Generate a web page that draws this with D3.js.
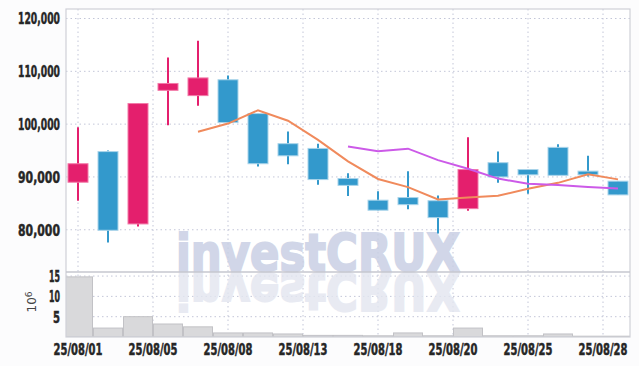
<!DOCTYPE html>
<html>
<head>
<meta charset="utf-8">
<script src="https://cdn.jsdelivr.net/npm/d3@7"></script>
<style>
  body { margin: 0; background: #fcfcfd; }
  svg { display: block; }
</style>
</head>
<body>
<svg id="chart"></svg>
<script>
const dates = ["25/08/01","25/08/04","25/08/05","25/08/06","25/08/07","25/08/08","25/08/11","25/08/12","25/08/13","25/08/14",
               "25/08/18","25/08/19","25/08/20","25/08/21","25/08/22","25/08/25","25/08/26","25/08/27","25/08/28"];
const open  = [89000, 94800, 81100, 106400, 105400, 108400, 102000, 96300, 95400, 89700,
               85600, 86100, 85500, 84000, 92700, 91400, 95600, 91100, 89200];
const high  = [99400, 95000, 104000, 112600, 115800, 109200, 102100, 98600, 96300, 90700,
               87300, 91100, 86500, 97500, 94800, 91500, 96200, 94000, 89200];
const low   = [85500, 77600, 80600, 99800, 103500, 100300, 92000, 92400, 88500, 86400,
               83650, 83900, 79300, 83600, 88900, 86800, 90300, 90100, 86600];
const close = [92500, 79900, 103900, 107700, 108750, 100300, 92500, 94000, 89500, 88400,
               83700, 84750, 82300, 91400, 90000, 90400, 90300, 90400, 86600];
const ma5   = [null, null, null, null, 98550, 100110, 102630, 100650, 97010, 92940,
               89620, 88070, 85730, 86110, 86430, 87770, 88880, 90500, 89540];
const ma10  = [null, null, null, null, null, null, null, null, null, 95745,
               94865, 95350, 93190, 91560, 89685, 88695, 88475, 88115, 87825];
const volume = [14.8, 2.2, 5.0, 3.2, 2.5, 1.0, 1.0, 0.75, 0.4, 0.4,
                0.3, 1.0, 0.3, 2.2, 0.3, 0.3, 0.75, 0.2, 0.2]; // x 10^6
const priceTicks = [80000, 90000, 100000, 110000, 120000];
const volumeTicks = [5, 10, 15];
const xTickPos = [0, 2.5, 5, 7.5, 10, 12.5, 15, 17.5];
const xTickLabels = ["25/08/01","25/08/05","25/08/08","25/08/13","25/08/18","25/08/20","25/08/25","25/08/28"];

const width = 639, height = 366;
const plotLeft = 66, plotRight = 630, plotTop = 9, priceBottom = 272, volBottom = 337;
const UP = "#e41f6d", DOWN = "#3399cc";
const labelFont = "'DejaVu Sans', sans-serif";

const svg = d3.select("#chart").attr("width", width).attr("height", height);

const idx = d3.range(dates.length);
const x = d3.scaleLinear().domain([-0.4, dates.length - 0.6]).range([plotLeft, plotRight]);
const y = d3.scaleLinear().domain([72000, 121800]).range([priceBottom, plotTop]);
const yv = d3.scaleLinear().domain([0, 16]).range([volBottom, priceBottom]);
const step = x(1) - x(0);

svg.append("defs").append("clipPath").attr("id", "plotClip")
   .append("rect").attr("x", plotLeft).attr("y", plotTop).attr("width", plotRight - plotLeft).attr("height", volBottom - plotTop);

svg.append("rect")
   .attr("x", plotLeft).attr("y", plotTop).attr("width", plotRight - plotLeft).attr("height", volBottom - plotTop)
   .attr("fill", "#ffffff");

const grid = svg.append("g").attr("stroke", "#c3c6d8").attr("stroke-width", 1).attr("stroke-dasharray", "1.5,3");

grid.selectAll(".vg").data(xTickPos).enter().append("line")
    .attr("x1", d => x(d)).attr("x2", d => x(d)).attr("y1", plotTop).attr("y2", volBottom);
grid.selectAll(".hg").data(priceTicks).enter().append("line")
    .attr("x1", plotLeft).attr("x2", plotRight).attr("y1", d => y(d)).attr("y2", d => y(d));
grid.selectAll(".hv").data(volumeTicks).enter().append("line")
    .attr("x1", plotLeft).attr("x2", plotRight).attr("y1", d => yv(d)).attr("y2", d => yv(d));

// watermark with reflection
const wm = svg.append("g").attr("clip-path", "url(#plotClip)");
wm.append("text")
  .attr("x", 176).attr("y", 271)
  .attr("textLength", 284).attr("lengthAdjust", "spacingAndGlyphs")
  .style("font-family", "'DejaVu Sans', sans-serif")
  .style("font-weight", "bold").style("font-size", "52px")
  .attr("fill", "#c9d0e4").attr("stroke", "#c9d0e4").attr("stroke-width", 2)
  .attr("opacity", 0.85)
  .text("investCRUX");
wm.append("text")
  .attr("x", 176).attr("y", 271)
  .attr("transform", "translate(0,544) scale(1,-1)")
  .attr("textLength", 284).attr("lengthAdjust", "spacingAndGlyphs")
  .style("font-family", "'DejaVu Sans', sans-serif")
  .style("font-weight", "bold").style("font-size", "52px")
  .attr("fill", "#e3e6f0").attr("stroke", "#e3e6f0").attr("stroke-width", 2)
  .attr("opacity", 0.8)
  .text("investCRUX");

// volume bars
svg.append("g").attr("clip-path", "url(#plotClip)")
   .selectAll("rect").data(idx).enter().append("rect")
   .attr("x", i => x(i) - step / 2 + 0.5)
   .attr("width", step - 1)
   .attr("y", i => yv(volume[i]))
   .attr("height", i => yv(0) - yv(volume[i]))
   .attr("fill", "#d9d9db").attr("stroke", "#c2c2c6").attr("stroke-width", 1);

// candles
const candles = svg.append("g");
candles.selectAll(".wick").data(idx).enter().append("line")
   .attr("x1", i => x(i)).attr("x2", i => x(i))
   .attr("y1", i => y(high[i])).attr("y2", i => y(low[i]))
   .attr("stroke", i => close[i] >= open[i] ? UP : DOWN)
   .attr("stroke-width", 2);
candles.selectAll(".body").data(idx).enter().append("rect")
   .attr("x", i => x(i) - 10)
   .attr("width", 20)
   .attr("y", i => y(Math.max(open[i], close[i])))
   .attr("height", i => Math.max(1, Math.abs(y(open[i]) - y(close[i]))))
   .attr("fill", i => close[i] >= open[i] ? UP : DOWN)
   .attr("stroke", i => close[i] >= open[i] ? "#f27aa8" : "#a9d4ea")
   .attr("stroke-width", 1);

// moving averages
const line = d3.line().defined(d => d[1] != null).x(d => x(d[0])).y(d => y(d[1]));
svg.append("path").datum(idx.map(i => [i, ma5[i]]))
   .attr("d", line).attr("fill", "none").attr("stroke", "#f08a5c").attr("stroke-width", 2);
svg.append("path").datum(idx.map(i => [i, ma10[i]]))
   .attr("d", line).attr("fill", "none").attr("stroke", "#cc5ae8").attr("stroke-width", 2);

// frame
svg.append("rect")
   .attr("x", plotLeft).attr("y", plotTop).attr("width", plotRight - plotLeft).attr("height", volBottom - plotTop)
   .attr("fill", "none").attr("stroke", "#cfd0d8").attr("stroke-width", 1.2);
svg.append("line")
   .attr("x1", plotLeft).attr("x2", plotRight).attr("y1", priceBottom).attr("y2", priceBottom)
   .attr("stroke", "#c6c7cf").attr("stroke-width", 1.5);

// axes labels: squeeze horizontally to get the condensed look
const fmt = d3.format(",");
function label(px, py, str, anchor, targetW) {
  const g = svg.append("g");
  const t = g.append("text")
     .attr("text-anchor", anchor).attr("dy", "0.38em")
     .style("font-family", labelFont).style("font-weight", "bold").style("font-size", "15.5px")
     .attr("fill", "#262626").attr("stroke", "#262626").attr("stroke-width", 0.5)
     .text(str);
  const s = targetW / t.node().getComputedTextLength();
  g.attr("transform", `translate(${px},${py}) scale(${s},1)`);
}
priceTicks.forEach(d => label(plotLeft - 6, y(d), fmt(d), "end", 42));
volumeTicks.forEach(d => label(plotLeft - 6, yv(d), String(d), "end", d < 10 ? 7 : 11));
xTickPos.forEach((d, i) => label(x(d), 349, xTickLabels[i], "middle", 49));

const unit = svg.append("text")
   .attr("transform", "translate(36,302) rotate(-90)")
   .attr("text-anchor", "middle")
   .style("font-family", "'DejaVu Sans', sans-serif").style("font-size", "12px")
   .attr("fill", "#444");
unit.append("tspan").text("10");
unit.append("tspan").attr("dy", "-0.5em").style("font-size", "9px").text("6");
</script>
</body>
</html>
